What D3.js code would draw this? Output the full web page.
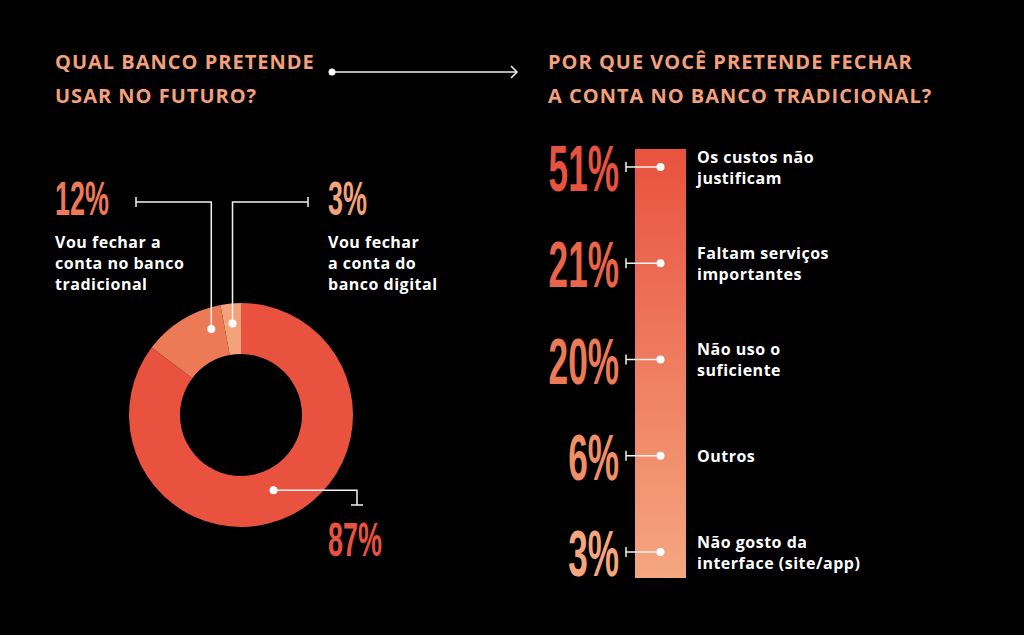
<!DOCTYPE html>
<html>
<head>
<meta charset="utf-8">
<script src="https://cdn.jsdelivr.net/npm/d3@7"></script>
<style>
  html, body { margin: 0; padding: 0; background: #000; }
  svg { display: block; }
  .lbl { font-family: "Open Sans", sans-serif; font-weight: 700; fill: #fff; font-size: 16px; letter-spacing: 0.5px; }
  .ttl { font-family: "Open Sans", sans-serif; font-weight: 700; fill: #f4a07a; font-size: 20px; letter-spacing: 1px; }
  .pct { font-family: "Liberation Sans", sans-serif; font-weight: 700; }
</style>
</head>
<body>
<script>
// donut data
var donutLabels = ["Vou manter", "Vou fechar a conta no banco tradicional", "Vou fechar a conta do banco digital"];
var donutValues = [87, 12, 3];
var donutColors = ["#e8523f", "#ec7a56", "#f4a27a"];

// bar data
var reasons = ["Os custos não justificam", "Faltam serviços importantes", "Não uso o suficiente", "Outros", "Não gosto da interface (site/app)"];
var reasonValues = [51, 21, 20, 6, 3];
var reasonLines = [["Os custos não", "justificam"], ["Faltam serviços", "importantes"], ["Não uso o", "suficiente"], ["Outros"], ["Não gosto da", "interface (site/app)"]];
var reasonColors = ["#e8523f", "#ea6447", "#ec7a56", "#f08f68", "#f4a67e"];

function init(){
    var w = 1024, h = 635;
    var svg = d3.select("body").append("svg").attr("width", w).attr("height", h);

    svg.append("rect").attr("width", w).attr("height", h).attr("fill", "#000");

    // titles
    var t1 = svg.append("text").attr("class", "ttl").attr("x", 55).attr("y", 69);
    t1.append("tspan").attr("x", 55).text("QUAL BANCO PRETENDE");
    t1.append("tspan").attr("x", 55).attr("dy", 34).text("USAR NO FUTURO?");
    var t2 = svg.append("text").attr("class", "ttl").attr("x", 548).attr("y", 69);
    t2.append("tspan").attr("x", 548).text("POR QUE VOCÊ PRETENDE FECHAR");
    t2.append("tspan").attr("x", 548).attr("dy", 34).text("A CONTA NO BANCO TRADICIONAL?");

    // arrow
    svg.append("line").attr("x1", 332).attr("x2", 517).attr("y1", 72).attr("y2", 72)
        .attr("stroke", "#eee").attr("stroke-width", 1.5);
    svg.append("circle").attr("cx", 332).attr("cy", 72).attr("r", 3.5).attr("fill", "#fff");
    svg.append("path").attr("d", "M511,66 L517,72 L511,78").attr("fill", "none")
        .attr("stroke", "#eee").attr("stroke-width", 1.5);

    // pct text helper: condensed by scaling x
    function pct(x, y, txt, size, color, anchor){
        var sx = 0.55;
        svg.append("text").attr("class", "pct")
            .attr("transform", "translate(" + x + "," + y + ") scale(" + sx + ",1)")
            .attr("text-anchor", anchor)
            .attr("font-size", size)
            .attr("fill", color)
            .text(txt);
    }

    // donut
    var cx = 241, cy = 415, rOut = 112, rIn = 61;
    var pie = d3.pie().sort(null).value(function(d){ return d; });
    var arcs = pie(donutValues);
    var arc = d3.arc().innerRadius(rIn).outerRadius(rOut);
    var g = svg.append("g").attr("transform", "translate(" + cx + "," + cy + ")");
    g.selectAll("path").data(arcs).enter().append("path")
        .attr("d", arc)
        .attr("fill", function(d, i){ return donutColors[i]; });

    function dotPos(a, frac, r){
        var ang = a.startAngle + (a.endAngle - a.startAngle) * frac;
        return [cx + r * Math.sin(ang), cy - r * Math.cos(ang)];
    }

    var lineCol = "#f2f2f2";
    function leader(pts, cap){
        svg.append("path").attr("d", d3.line()(pts)).attr("fill", "none")
            .attr("stroke", lineCol).attr("stroke-width", 1.5);
        svg.append("path").attr("d", d3.line()(cap)).attr("fill", "none")
            .attr("stroke", lineCol).attr("stroke-width", 1.5);
        svg.append("circle").attr("cx", pts[0][0]).attr("cy", pts[0][1]).attr("r", 4).attr("fill", "#fff");
    }

    // 12% leader
    var p12 = dotPos(arcs[1], 0.8, 91);
    leader([p12, [p12[0], 202], [136, 202]], [[136, 197], [136, 207]]);
    // 3% leader
    var p3 = dotPos(arcs[2], 0.5, 92);
    leader([p3, [p3[0], 202], [308, 202]], [[308, 197], [308, 207]]);
    // 87% leader
    var p87 = dotPos(arcs[0], 0.51, 82);
    leader([p87, [357, p87[1]], [357, 505]], [[351, 505], [363, 505]]);

    pct(55, 215, donutValues[1] + "%", 49, donutColors[1], "start");
    pct(328, 215, donutValues[2] + "%", 49, donutColors[2], "start");
    pct(328, 556, donutValues[0] + "%", 49, donutColors[0], "start");

    function lines(x, y, arr){
        var t = svg.append("text").attr("class", "lbl").attr("x", x).attr("y", y);
        arr.forEach(function(s, i){
            t.append("tspan").attr("x", x).attr("dy", i ? 21 : 0).text(s);
        });
    }
    lines(55, 248, ["Vou fechar a", "conta no banco", "tradicional"]);
    lines(328, 248, ["Vou fechar", "a conta do", "banco digital"]);

    // gradient bar
    var defs = svg.append("defs");
    var grad = defs.append("linearGradient").attr("id", "bg")
        .attr("x1", 0).attr("y1", 0).attr("x2", 0).attr("y2", 1);
    grad.append("stop").attr("offset", "0%").attr("stop-color", "#e8523f");
    grad.append("stop").attr("offset", "100%").attr("stop-color", "#f5a77f");

    var barX = 635, barW = 51, barTop = 149, barBot = 578;
    svg.append("rect").attr("x", barX).attr("y", barTop).attr("width", barW)
        .attr("height", barBot - barTop).attr("fill", "url(#bg)");

    var yScale = d3.scalePoint().domain(reasons).range([167, 552]);

    reasons.forEach(function(r, i){
        var y = yScale(r);
        var dx = barX + barW / 2;
        svg.append("line").attr("x1", 626).attr("x2", dx).attr("y1", y).attr("y2", y)
            .attr("stroke", lineCol).attr("stroke-width", 1.5);
        svg.append("line").attr("x1", 626).attr("x2", 626).attr("y1", y - 5).attr("y2", y + 5)
            .attr("stroke", lineCol).attr("stroke-width", 1.5);
        svg.append("circle").attr("cx", dx).attr("cy", y).attr("r", 4).attr("fill", "#fff");

        pct(619, y + 24, reasonValues[i] + "%", 64, reasonColors[i], "end");

        var arr = reasonLines[i];
        var y0 = y + 6 - (arr.length - 1) * 10.5;
        lines(697, y0, arr);
    });
}
window.onload = init;
</script>
</body>
</html>
